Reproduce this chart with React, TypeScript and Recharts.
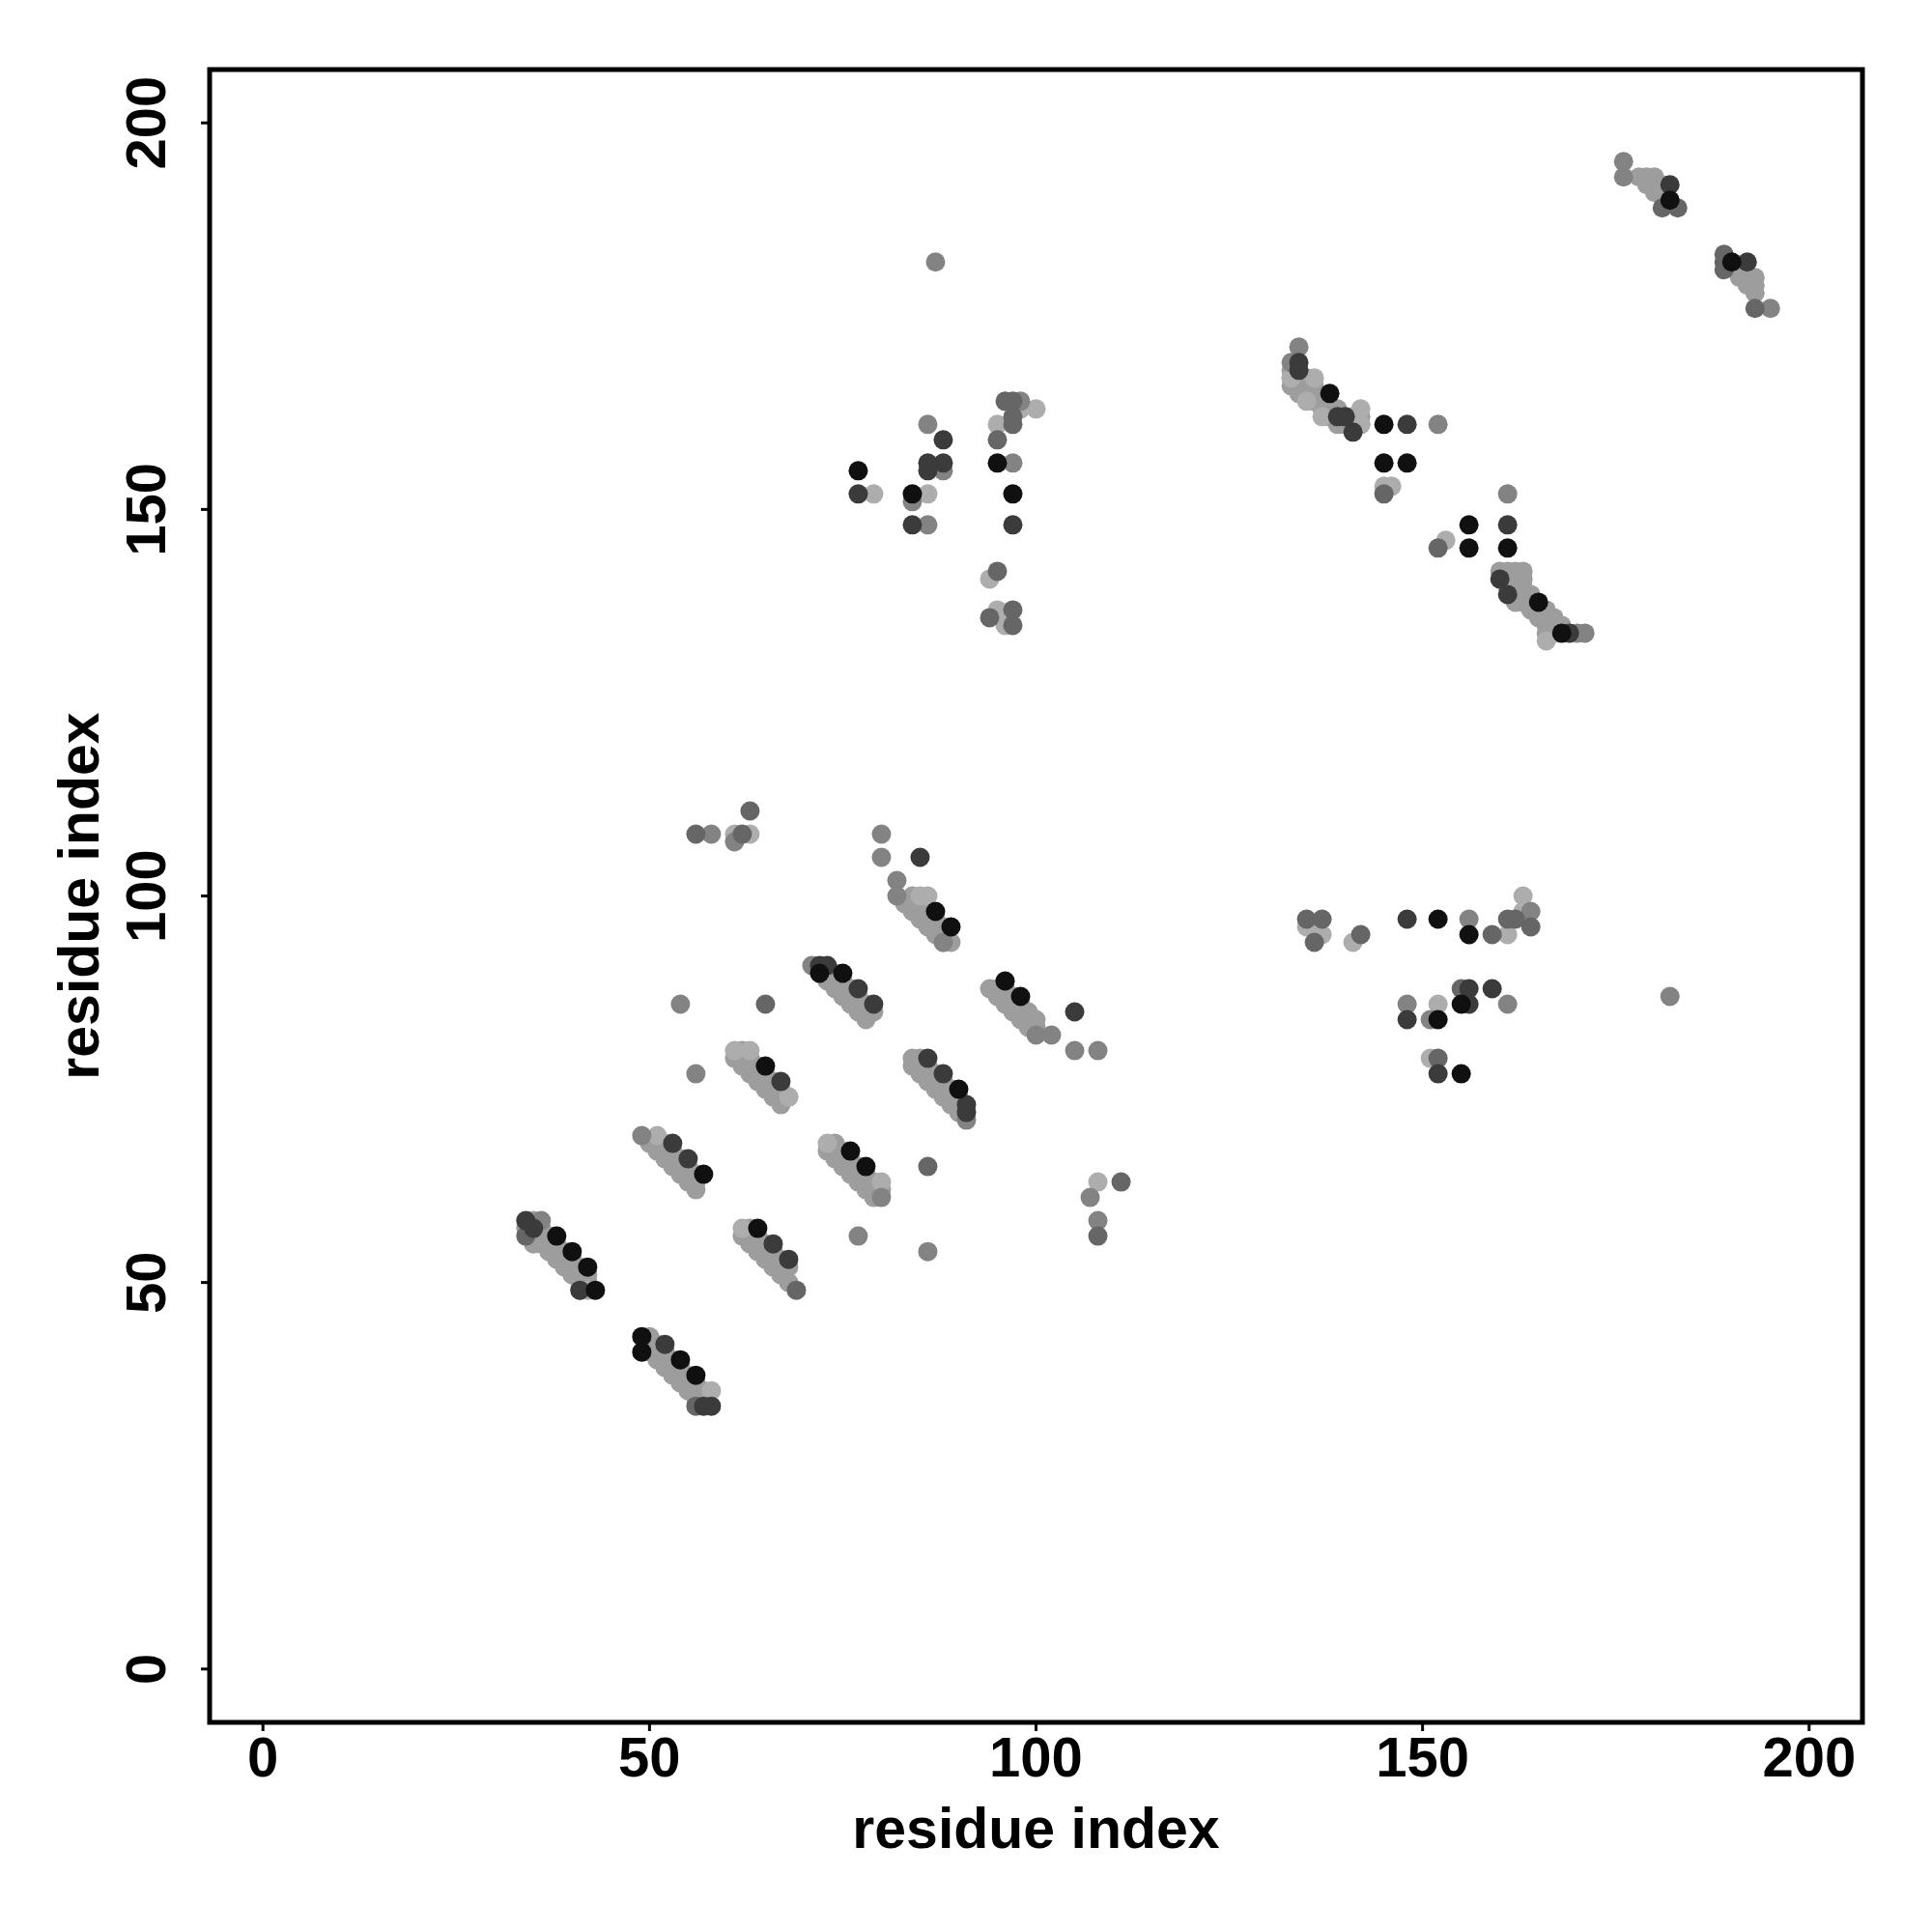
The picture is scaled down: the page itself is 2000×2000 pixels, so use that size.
import { ScatterChart, Scatter, XAxis, YAxis, ReferenceArea } from 'recharts';

type Pt = [number, number];

// residue pairs, grouped by grey level
const fillPts: Pt[] = [
  // band 34-43 / 49-58
  [34, 57], [35, 56], [36, 55], [37, 54], [38, 53], [39, 52], [40, 51], [41, 50],
  [35, 58], [36, 57], [37, 56], [38, 55], [39, 54], [40, 53], [41, 52], [42, 51],
  [36, 56], [38, 54], [40, 52], [42, 50], [35, 55], [41, 49],
  // band 49-58 / 34-43
  [50, 41], [51, 40], [52, 39], [53, 38], [54, 37], [55, 36], [56, 35],
  [50, 43], [51, 42], [52, 41], [53, 40], [54, 39], [55, 38], [56, 37], [57, 36],
  [51, 41], [53, 39], [55, 37], [57, 35], [50, 42],
  // band 49-57 / 62-69
  [50, 68], [51, 67], [52, 66], [53, 65], [54, 64], [55, 63], [56, 62],
  [52, 68], [53, 67], [54, 66], [55, 65], [56, 64], [52, 67], [54, 65], [56, 63], [51, 68],
  // band 62-69 / 49-57
  [62, 56], [63, 55], [64, 54], [65, 53], [66, 52], [67, 51], [68, 50],
  [63, 57], [64, 56], [65, 55], [66, 54], [67, 53], [68, 52], [63, 56], [65, 54], [67, 52],
  // band 61-68 / 73-80
  [61, 79], [62, 78], [63, 77], [64, 76], [65, 75], [66, 74], [67, 73],
  [62, 80], [63, 79], [64, 78], [65, 77], [66, 76], [67, 75], [68, 74], [62, 79], [64, 77], [66, 75],
  // band 71-79 / 84-91
  [72, 90], [73, 89], [74, 88], [75, 87], [76, 86], [77, 85], [78, 84],
  [74, 90], [75, 89], [76, 88], [77, 87], [78, 86], [79, 85], [73, 90], [75, 88], [77, 86],
  // band 73-80 / 61-68
  [73, 67], [74, 66], [75, 65], [76, 64], [77, 63], [78, 62], [79, 61],
  [74, 68], [75, 67], [76, 66], [77, 65], [78, 64], [79, 63], [80, 62], [74, 67], [76, 65], [78, 63],
  // band 84-91 / 71-79
  [84, 78], [85, 77], [86, 76], [87, 75], [88, 74], [89, 73], [90, 72],
  [85, 79], [86, 78], [87, 77], [88, 76], [89, 75], [90, 74], [85, 78], [87, 76], [89, 74], [84, 79],
  // band 82-89 / 94-102
  [84, 100], [85, 99], [86, 98], [87, 97], [88, 96],
  [83, 99], [84, 98], [85, 97], [86, 96], [87, 95], [88, 94], [84, 99], [86, 97], [88, 95], [89, 94],
  // band 94-102 / 82-89
  [94, 88], [95, 87], [96, 86], [97, 85], [98, 84], [99, 83],
  [96, 88], [97, 87], [98, 86], [99, 85], [100, 84], [95, 88], [97, 86], [99, 84], [100, 83],
  // band 133-143 / 159-171
  [133, 168], [133, 167], [133, 166], [134, 167], [134, 166], [134, 165], [135, 167], [135, 166],
  [135, 165], [136, 166], [136, 165], [136, 164], [137, 164], [137, 163], [138, 163], [138, 162],
  [139, 163], [139, 161], [140, 162], [140, 161], [141, 162], [141, 161], [142, 162], [142, 161],
  // band 160-171 / 133-142
  [160, 142], [161, 142], [162, 142], [163, 142], [161, 141], [162, 141], [163, 141], [161, 140],
  [162, 140], [163, 140], [162, 139], [163, 139], [164, 139], [162, 138], [163, 138], [164, 138],
  [164, 137], [165, 137], [166, 137], [165, 136], [166, 136], [167, 136], [166, 135], [167, 135],
  [168, 135], [167, 134], [166, 134],
  // band 176-183 / 189-195
  [178, 193], [179, 193], [180, 193], [179, 192], [180, 192], [181, 192], [180, 191], [181, 191], [182, 190],
  // band 189-195 / 176-183
  [191, 181], [192, 180], [193, 180], [192, 179], [193, 179], [193, 178], [191, 180],
];

const lightPts: Pt[] = [
  [42, 49], [58, 36], [51, 69], [62, 57], [61, 80], [63, 80], [68, 74], [80, 63], [73, 68],
  [85, 100], [86, 100], [61, 108], [63, 108], [108, 63],
  [135, 96], [137, 95], [141, 94], [161, 95], [163, 100], [163, 98], [152, 86], [151, 79],
  [79, 152], [86, 152], [100, 163], [98, 163], [95, 161], [94, 141], [95, 137], [96, 135],
  [133, 167], [136, 167], [135, 164], [137, 162], [142, 163], [142, 161], [145, 153], [146, 153],
  [153, 146], [166, 133],
];

const grayPts: Pt[] = [
  [36, 58], [49, 69], [80, 61], [91, 71], [80, 108], [80, 105], [82, 102], [82, 100], [88, 94],
  [100, 82], [102, 82], [105, 80], [108, 80], [107, 61], [108, 58], [58, 108], [61, 107],
  [54, 86], [56, 77], [77, 56], [86, 54], [71, 91],
  [156, 97], [164, 98], [148, 86], [151, 84], [161, 86], [182, 87], [87, 182],
  [84, 151], [86, 148], [86, 161], [88, 155], [98, 164], [97, 156],
  [134, 171], [133, 169], [152, 161], [161, 152], [170, 134], [171, 134], [176, 195], [176, 193],
  [195, 176],
];

const midPts: Pt[] = [
  [34, 56], [56, 34], [69, 49], [56, 108], [62, 108], [63, 111], [65, 86], [86, 65], [108, 56],
  [111, 63], [135, 97], [137, 97], [136, 94], [142, 95], [159, 95], [161, 97], [162, 97],
  [152, 79], [155, 88], [164, 96],
  [96, 164], [97, 164], [97, 162], [97, 161], [95, 159], [95, 142], [94, 136], [97, 137], [97, 135],
  [145, 152], [152, 145], [181, 189], [183, 189], [189, 183], [189, 182], [189, 181], [193, 176],
];

const darkPts: Pt[] = [
  [34, 58], [35, 57], [41, 49], [52, 42], [57, 34], [58, 34], [53, 68], [55, 66], [66, 55], [68, 53],
  [67, 76], [72, 91], [73, 91], [77, 88], [79, 86], [86, 79], [88, 77], [91, 73], [91, 72],
  [85, 105], [105, 85],
  [148, 97], [148, 84], [156, 88], [156, 86], [159, 88], [152, 77],
  [77, 152], [84, 148], [86, 155], [86, 156], [88, 159], [88, 156], [97, 148],
  [134, 169], [134, 168], [139, 162], [140, 162], [141, 160], [148, 161], [161, 148],
  [160, 141], [161, 139], [169, 134], [182, 192], [192, 182],
];

const blackPts: Pt[] = [
  [38, 56], [40, 54], [42, 52], [43, 49], [49, 43], [49, 41], [54, 40], [56, 38],
  [57, 64], [64, 57], [65, 78], [72, 90], [75, 90], [76, 67], [78, 65], [90, 75],
  [87, 98], [89, 96], [96, 89], [98, 87],
  [152, 97], [156, 95], [152, 84], [155, 86], [155, 77],
  [77, 155], [84, 152], [95, 156], [97, 152],
  [138, 165], [145, 161], [145, 156], [148, 156], [156, 148], [156, 145], [161, 145],
  [165, 138], [168, 134], [182, 190], [190, 182],
];

const ticks = [0, 50, 100, 150, 200];
const domain: [number, number] = [-6.9, 206.9];

const FONT = '"Liberation Sans", Arial, Helvetica, sans-serif';

const toRows = (pts: Pt[]) => pts.map(([x, y]) => ({ x, y }));

const dot = (color: string) => (props: any) => (
  <circle cx={props.cx} cy={props.cy} r={10} fill={color} />
);

const XTick = (props: any) => (
  <text x={props.x} y={props.y + 47} textAnchor="middle" fontFamily={FONT} fontWeight="bold" fontSize={58} fill="#000">
    {props.payload.value}
  </text>
);

const YTick = (props: any) => {
  const tx = props.x - 37;
  return (
    <text x={tx} y={props.y} transform={`rotate(-90, ${tx}, ${props.y})`} textAnchor="middle"
      fontFamily={FONT} fontWeight="bold" fontSize={58} fill="#000">
      {props.payload.value}
    </text>
  );
};

const series = [
  { name: 'fill', pts: fillPts, color: '#9d9d9d' },
  { name: 'light', pts: lightPts, color: '#adadad' },
  { name: 'gray', pts: grayPts, color: '#838383' },
  { name: 'mid', pts: midPts, color: '#666666' },
  { name: 'dark', pts: darkPts, color: '#3b3b3b' },
  { name: 'black', pts: blackPts, color: '#101010' },
];

export default function App() {
  return (
    <div style={{ position: 'absolute', left: 0, top: 0, background: '#fff' }}>
      <ScatterChart width={2000} height={2000} margin={{ top: 72, right: 72, bottom: 117, left: 57 }}>
        <XAxis
          type="number"
          dataKey="x"
          domain={domain}
          allowDataOverflow
          ticks={ticks}
          height={100}
          axisLine={false}
          tickSize={9}
          tickMargin={0}
          tickLine={{ stroke: '#000', strokeWidth: 3 }}
          tick={<XTick />}
          label={{
            content: (p: any) => {
              const vb = p.viewBox || { x: 217, y: 1783, width: 1711 };
              return (
                <text x={vb.x + vb.width / 2} y={vb.y + 130} textAnchor="middle" fontFamily={FONT}
                  fontWeight="bold" fontSize={59} fill="#000">residue index</text>
              );
            },
          }}
        />
        <YAxis
          type="number"
          dataKey="y"
          domain={domain}
          allowDataOverflow
          ticks={ticks}
          width={160}
          axisLine={false}
          tickSize={9}
          tickMargin={0}
          tickLine={{ stroke: '#000', strokeWidth: 3 }}
          tick={<YTick />}
          label={{
            content: (p: any) => {
              const vb = p.viewBox || { x: 57, y: 72, height: 1711 };
              const lx = vb.x + 45;
              const ly = vb.y + vb.height / 2;
              return (
                <text x={lx} y={ly} transform={`rotate(-90, ${lx}, ${ly})`} textAnchor="middle"
                  fontFamily={FONT} fontWeight="bold" fontSize={59} fill="#000">residue index</text>
              );
            },
          }}
        />
        {series.map((s) => (
          <Scatter
            key={s.name}
            name={s.name}
            data={toRows(s.pts)}
            shape={dot(s.color)}
            isAnimationActive={false}
          />
        ))}
        <ReferenceArea x1={domain[0]} x2={domain[1]} y1={domain[0]} y2={domain[1]}
          fill="none" fillOpacity={0} stroke="#000" strokeWidth={5} ifOverflow="visible" />
      </ScatterChart>
    </div>
  );
}
